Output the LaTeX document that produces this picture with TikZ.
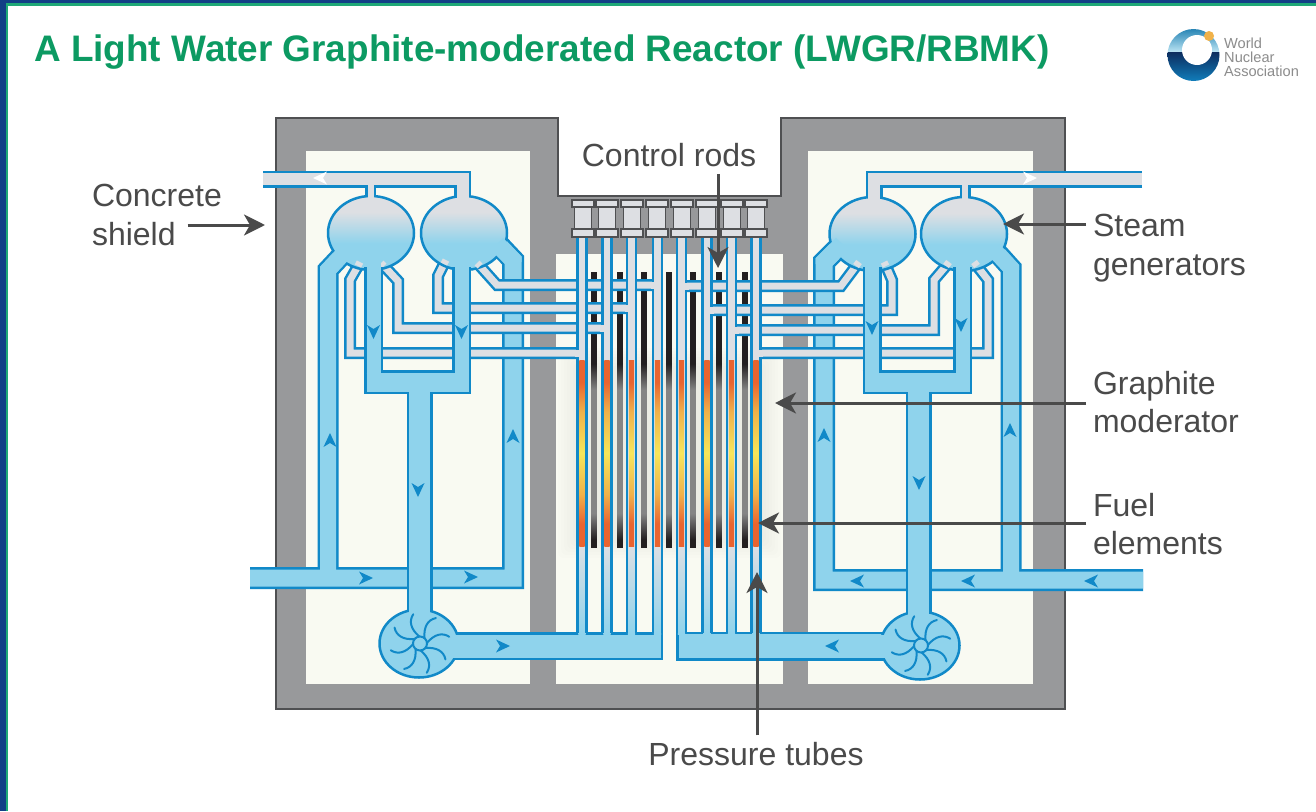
\documentclass[tikz,border=0pt]{standalone}
\usepackage{fontspec}
\setmainfont{Liberation Sans}
\usetikzlibrary{arrows.meta}

\begin{document}
\begin{tikzpicture}[x=1pt, y=-1pt,
    pipeWall/.style={draw=pipeBlue, line width=#1 pt, line join=miter},
    waterCore/.style={draw=waterFill, line width=#1 pt-5pt, line join=miter},
    steamCore/.style={draw=steamFill, line width=#1 pt-5pt, line join=miter},
    callout/.style={draw=labelGrey, line width=3pt, -{Stealth[length=21pt, width=21pt, inset=6pt]}},
    labelText/.style={text=labelGrey, inner sep=0pt, outer sep=7pt, align=left, font=\fontsize{32}{38.5}\selectfont},
    logoText/.style={text=logoGrey, inner sep=0pt, anchor=west, font=\fontsize{14.6}{15}\selectfont}]
    % Define colours
    \definecolor{frameBlue}{HTML}{123F86}
    \definecolor{frameGreen}{HTML}{1FA877}
    \definecolor{titleGreen}{HTML}{0C9A62}
    \definecolor{concreteGrey}{HTML}{98999B}
    \definecolor{concreteEdge}{HTML}{4F5052}
    \definecolor{panelCream}{HTML}{F9FAF2}
    \definecolor{pipeBlue}{HTML}{1189C8}
    \definecolor{waterFill}{HTML}{8FD3EC}
    \definecolor{steamFill}{HTML}{DDDFE3}
    \definecolor{labelGrey}{HTML}{4A4A4A}
    \definecolor{logoGrey}{HTML}{8C8C8C}
    \definecolor{rodBlack}{HTML}{231F20}
    \definecolor{rodGrey}{HTML}{858585}
    \definecolor{fuelOrange}{HTML}{E9642F}
    \definecolor{fuelMid}{HTML}{F0B24A}
    \definecolor{fuelYellow}{HTML}{F6E65A}

    % Define shadings, the path fills the middle 50bp
    \pgfdeclareverticalshading{vesselShade}{100bp}{color(0bp)=(waterFill); color(43bp)=(waterFill); color(64bp)=(steamFill); color(100bp)=(steamFill)}
    \pgfdeclareverticalshading{fuelShade}{100bp}{color(0bp)=(fuelOrange); color(31bp)=(fuelOrange); color(39bp)=(fuelMid); color(50bp)=(fuelYellow); color(61bp)=(fuelMid); color(69bp)=(fuelOrange); color(100bp)=(fuelOrange)}
    \pgfdeclareverticalshading{rodShade}{100bp}{color(0bp)=(rodBlack); color(27bp)=(rodBlack); color(34bp)=(rodGrey); color(67bp)=(rodGrey); color(74bp)=(rodBlack); color(100bp)=(rodBlack)}

    % Define flow marker: x, y, screen angle, colour
    \def\flowMark#1#2#3#4{\fill[#4, shift={(#1,#2)}, rotate=#3] (7,0) -- (-7,-6.5) -- (-3,0) -- (-7,6.5) -- cycle;}

    % Fix page size
    \useasboundingbox (0,0) rectangle (1316,811);

    % Draw frame
    \fill[white] (0,0) rectangle (1316,811);
    \fill[frameBlue] (0,0) rectangle (1316,3);
    \fill[frameBlue] (0,0) rectangle (6,811);
    \fill[frameGreen] (6,3) rectangle (1316,5.5);
    \fill[frameGreen] (6,3) rectangle (8,811);

    % Title
    \node[anchor=west, inner sep=0pt, text=titleGreen, font=\fontsize{36.9}{42}\selectfont\bfseries] (titleLabel) at (34,52) {A Light Water Graphite-moderated Reactor (LWGR/RBMK)};

    % Draw logo
    \begin{scope}
        \clip (1193.5,55) circle (26);
        \shade[top color=pipeBlue!85!black, bottom color=waterFill!60!white] (1160,25) rectangle (1230,52);
        \shade[top color=frameBlue!70!black, bottom color=pipeBlue] (1160,52) rectangle (1230,85);
    \end{scope}
    \fill[white] (1197,50) circle (15);
    \fill[fuelMid] (1209,36) circle (5);
    \node[logoText] (logoWorld) at (1224,43) {World};
    \node[logoText] (logoNuclear) at (1224,57) {Nuclear};
    \node[logoText] (logoAssociation) at (1224,71) {Association};

    % Draw concrete shield and panels
    \filldraw[fill=concreteGrey, draw=concreteEdge, line width=1.5pt] (276,118) -- (558,118) -- (558,196) -- (781,196) -- (781,118) -- (1065,118) -- (1065,709) -- (276,709) -- cycle;
    \fill[panelCream] (306,151) rectangle (530,684);
    \fill[panelCream] (556,254) rectangle (783,684);
    \fill[panelCream] (808,151) rectangle (1033,684);

    % Graphite glow
    \foreach \glow in {0,3,...,18}
        \fill[black, opacity=0.009, rounded corners=6] (558+\glow,348+\glow) rectangle (781-\glow,558-\glow);

    % Draw control rods
    \foreach \rodX in {594,620,644,669,693,719,745} {
        \fill[rodBlack] (\rodX-2.8,272) rectangle (\rodX+2.8,361);
        \shade[shading=rodShade] (\rodX-2.8,360) rectangle (\rodX+2.8,547);
    }

    % Draw feed pipes and risers
    \draw[pipeWall=22] (250,578) -- (513,578) -- (513,260) -- (497,243);
    \draw[pipeWall=21] (328,578) -- (328,270) -- (343,254);
    \draw[pipeWall=22] (1143,580) -- (824,580) -- (824,262) -- (843,243);
    \draw[pipeWall=21] (1011,580) -- (1011,268) -- (993,248);
    \draw[waterCore=22] (250,578) -- (513,578) -- (513,260) -- (497,243);
    \draw[waterCore=21] (328,578) -- (328,270) -- (343,254);
    \draw[waterCore=22] (1143,580) -- (824,580) -- (824,262) -- (843,243);
    \draw[waterCore=21] (1011,580) -- (1011,268) -- (993,248);

    % Draw core headers
    \draw[pipeWall=28] (440,646) -- (663,646);
    \draw[pipeWall=29] (676,646) -- (900,646);
    \draw[waterCore=28] (440,646) -- (660.5,646);
    \draw[waterCore=29] (678.5,646) -- (900,646);

    % Draw steam lines to the tubes
    \foreach \steamPath in {1,...,8} {
        \ifcase\steamPath\or
            \def\steamRoute{(358,266) -- (350,280) -- (350,353) -- (582,353)}\or
            \def\steamRoute{(384,266) -- (398,281) -- (398,328) -- (607,328)}\or
            \def\steamRoute{(444,264) -- (438,276) -- (438,308) -- (631.5,308)}\or
            \def\steamRoute{(480,266) -- (497,285) -- (657.5,285)}\or
            \def\steamRoute{(856,266) -- (841,286) -- (681.5,286)}\or
            \def\steamRoute{(886,266) -- (892,280) -- (892,310) -- (707,310)}\or
            \def\steamRoute{(946,266) -- (934,280) -- (934,330) -- (731.5,330)}\or
            \def\steamRoute{(977,266) -- (988,280) -- (988,353) -- (756,353)}\fi
        \draw[pipeWall=12] \steamRoute;
        \draw[steamCore=12] \steamRoute;
    }

    % Draw pressure tubes
    \foreach \tubeX in {582,607,631.5,657.5,681.5,707,731.5,756} {
        \fill[steamFill] (\tubeX-4.6,237) rectangle (\tubeX+4.6,548);
        \shade[top color=steamFill, bottom color=waterFill] (\tubeX-3.6,546) rectangle (\tubeX+3.6,634.5);
        \shade[shading=fuelShade] (\tubeX-2.7,360) rectangle (\tubeX+2.7,546);
        \draw[pipeBlue, line width=2.5pt] (\tubeX-4.6,237) -- (\tubeX-4.6,633) (\tubeX+4.6,237) -- (\tubeX+4.6,633);
    }

    % Open the tube walls where steam lines join
    \foreach \joinX/\joinY in {582/353,607/328,631.5/308,657.5/285}
        \draw[steamCore=12] (\joinX-7,\joinY) -- (\joinX,\joinY);
    \foreach \joinX/\joinY in {681.5/286,707/310,731.5/330,756/353}
        \draw[steamCore=12] (\joinX,\joinY) -- (\joinX+7,\joinY);

    % Draw steam headers
    \draw[pipeWall=17] (263,179) -- (462.5,179) -- (462.5,198);
    \draw[pipeWall=11] (370.5,179) -- (370.5,198);
    \draw[pipeWall=17] (1142,179) -- (874,179) -- (874,198);
    \draw[pipeWall=11] (965,179) -- (965,198);

    % Draw steam generators
    \foreach \vesselX/\vesselY in {371/233,464/233,872.5/234,964/234}
        \shadedraw[shading=vesselShade, draw=pipeBlue, line width=2.5pt] (\vesselX,\vesselY) ellipse (43 and 37);

    % Core of steam headers, opening into the generators
    \draw[steamCore=17] (263,179) -- (462.5,179) -- (462.5,203);
    \draw[steamCore=11] (370.5,180) -- (370.5,203);
    \draw[steamCore=17] (1142,179) -- (874,179) -- (874,203);
    \draw[steamCore=11] (965,180) -- (965,203);

    % Open generators to the risers and steam lines
    \draw[waterCore=22] (513,262) -- (513,260) -- (497,244);
    \draw[waterCore=21] (328,272) -- (328,270) -- (344,253);
    \draw[waterCore=22] (824,264) -- (824,262) -- (842,244);
    \draw[waterCore=21] (1011,270) -- (1011,268) -- (994,250);
    \draw[steamCore=12] (358,266) -- (360,262);
    \draw[steamCore=12] (384,266) -- (381,263);
    \draw[steamCore=12] (444,264) -- (446,260);
    \draw[steamCore=12] (480,266) -- (477,263);
    \draw[steamCore=12] (856,266) -- (859,262);
    \draw[steamCore=12] (886,266) -- (884,262);
    \draw[steamCore=12] (946,266) -- (949,262);
    \draw[steamCore=12] (977,266) -- (974,262);

    % Draw downcomers and trunks
    \draw[pipeWall=19] (373.5,267) -- (373.5,382) (461.5,267) -- (461.5,382);
    \draw[pipeWall=24] (364,382) -- (471,382);
    \draw[pipeWall=26] (419.5,382) -- (419.5,612);
    \draw[pipeWall=19] (872,267) -- (872,382) (962.5,267) -- (962.5,382);
    \draw[pipeWall=24] (862.5,382) -- (972,382);
    \draw[pipeWall=26] (918.5,382) -- (918.5,613);
    \draw[waterCore=19] (373.5,258) -- (373.5,382) (461.5,258) -- (461.5,382);
    \draw[waterCore=24] (366.5,382) -- (468.5,382);
    \draw[waterCore=26] (419.5,382) -- (419.5,612);
    \draw[waterCore=19] (872,258) -- (872,382) (962.5,258) -- (962.5,382);
    \draw[waterCore=24] (865,382) -- (969.5,382);
    \draw[waterCore=26] (918.5,382) -- (918.5,613);

    % Draw pumps
    \foreach \pumpX/\pumpY/\trunkX/\portX in {419/643.5/419.5/470,920/645.5/918.5/870} {
        \filldraw[fill=waterFill, draw=pipeBlue, line width=2.5pt] (\pumpX,\pumpY) ellipse (39.5 and 34);
        \draw[waterCore=26] (\trunkX,600) -- (\trunkX,622);
        \draw[waterCore=28] (\pumpX,646) -- (\portX,646);
        \begin{scope}[shift={(\pumpX+1,\pumpY)}]
            \draw[pipeBlue, line width=2pt] (0,0) circle (7);
            \foreach \bladeAngle in {5,50,...,320}
                \draw[pipeBlue, line width=2pt, line cap=round] (-\bladeAngle:7) .. controls (-\bladeAngle-28:17) and (-\bladeAngle-22:25) .. (-\bladeAngle-8:30);
        \end{scope}
    }

    % Draw control rod drives
    \foreach \driveX in {583,607,632,657,682,707,732,756} {
        \filldraw[fill=steamFill, draw=concreteEdge, line width=1.8pt] (\driveX-8.5,204) rectangle (\driveX+8.5,232);
        \filldraw[fill=steamFill, draw=concreteEdge, line width=1.8pt] (\driveX-11,200) rectangle (\driveX+11,207);
        \filldraw[fill=steamFill, draw=concreteEdge, line width=1.8pt] (\driveX-11,229) rectangle (\driveX+11,237);
    }

    % Draw flow markers
    \flowMark{320}{178}{180}{white}
    \flowMark{1030}{178}{0}{white}
    \flowMark{330}{440}{90}{pipeBlue}
    \flowMark{513}{436}{90}{pipeBlue}
    \flowMark{824}{435}{90}{pipeBlue}
    \flowMark{1010}{430}{90}{pipeBlue}
    \flowMark{373.5}{332}{270}{pipeBlue}
    \flowMark{461.5}{332}{270}{pipeBlue}
    \flowMark{872}{328}{270}{pipeBlue}
    \flowMark{961}{325}{270}{pipeBlue}
    \flowMark{418}{490}{270}{pipeBlue}
    \flowMark{919}{483}{270}{pipeBlue}
    \flowMark{366}{578}{0}{pipeBlue}
    \flowMark{471}{577}{0}{pipeBlue}
    \flowMark{503}{646}{0}{pipeBlue}
    \flowMark{1091}{581}{180}{pipeBlue}
    \flowMark{968}{581}{180}{pipeBlue}
    \flowMark{857}{581}{180}{pipeBlue}
    \flowMark{832}{646}{180}{pipeBlue}

    % Labels
    \node[labelText, anchor=west] (shieldTop) at (85,195) {Concrete};
    \node[labelText, anchor=west, outer sep=12pt] (shieldLabel) at (80,234) {shield};
    \node[labelText] (rodsLabel) at (669,155) {Control rods};
    \node[labelText, anchor=west] (steamLabel) at (1086,248) {Steam\\generators};
    \node[labelText, anchor=west] (graphiteLabel) at (1086,402) {Graphite\\moderator};
    \node[labelText, anchor=west] (fuelLabel) at (1086,524) {Fuel\\elements};
    \node[labelText] (tubesLabel) at (756,754) {Pressure tubes};

    % Define arrow tips
    \coordinate (shieldTip) at (265,225);
    \coordinate (rodsTip) at (718,268);
    \coordinate (steamTip) at (1003,224);
    \coordinate (graphiteTip) at (775,403);
    \coordinate (fuelTip) at (758,523);
    \coordinate (tubesTip) at (757,572);

    % Draw callouts
    \draw[callout] (shieldLabel.east |- shieldTip) -- (shieldTip);
    \draw[callout] (rodsLabel.south -| rodsTip) -- (rodsTip);
    \draw[callout] (steamLabel.west |- steamTip) -- (steamTip);
    \draw[callout] (graphiteLabel.west |- graphiteTip) -- (graphiteTip);
    \draw[callout] (fuelLabel.west |- fuelTip) -- (fuelTip);
    \draw[callout] (tubesLabel.north -| tubesTip) -- (tubesTip);
\end{tikzpicture}
\end{document}
